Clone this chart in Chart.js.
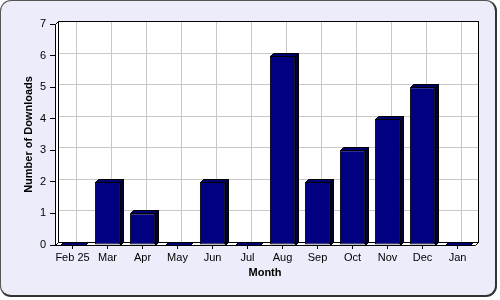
<!DOCTYPE html>
<html>
<head>
<meta charset="utf-8">
<script src="https://cdn.jsdelivr.net/npm/chart.js@4/dist/chart.umd.min.js"></script>
<style>
  html, body { margin: 0; padding: 0; background: #fff; }
  #frame {
    position: absolute; left: 0; top: 0;
    width: 494px; height: 294px;
    background: #ececfb;
    border: 1px solid #555;
    border-right: 2px solid #333;
    border-bottom: 2px solid #333;
    border-radius: 11px;
  }
  #chart { position: absolute; left: 0; top: 0; }
</style>
</head>
<body>
<div id="frame"></div>
<canvas id="chart" width="500" height="300"></canvas>
<script>
const months = ['Feb 25', 'Mar', 'Apr', 'May', 'Jun', 'Jul', 'Aug', 'Sep', 'Oct', 'Nov', 'Dec', 'Jan'];
const downloads = [0, 2, 1, 0, 2, 0, 6, 2, 3, 4, 5, 0];
const yTicks = [0, 1, 2, 3, 4, 5, 6, 7];

const DEPTH_X = 3;
const DEPTH_Y = 3;
const FONT = 'Arial, "Liberation Sans", sans-serif';

// back wall, left wall, floor and grid, drawn before the bars
const wallsPlugin = {
  id: 'walls',
  beforeDatasetsDraw(chart) {
    const { ctx, scales } = chart;
    const left = scales.x.getPixelForValue(-0.5);
    const right = scales.x.getPixelForValue(months.length - 0.5);
    const top = scales.y.getPixelForValue(yTicks[yTicks.length - 1]);
    const bottom = scales.y.getPixelForValue(0);
    const l = Math.round(left) + 0.5, r = Math.round(right) + 0.5;
    const t = Math.round(top) + 0.5, b = Math.round(bottom) + 0.5;
    ctx.save();
    ctx.lineWidth = 1;
    // back wall
    ctx.fillStyle = '#fff';
    ctx.fillRect(l + DEPTH_X, t - DEPTH_Y, r - l, b - t);
    // grid on the back wall
    ctx.strokeStyle = '#c8c8c8';
    ctx.beginPath();
    yTicks.forEach((v) => {
      const y = Math.round(scales.y.getPixelForValue(v) - DEPTH_Y) + 0.5;
      ctx.moveTo(l + DEPTH_X, y);
      ctx.lineTo(r + DEPTH_X, y);
    });
    months.forEach((m, i) => {
      const x = Math.round(scales.x.getPixelForValue(i) + DEPTH_X) + 0.5;
      ctx.moveTo(x, t - DEPTH_Y);
      ctx.lineTo(x, b - DEPTH_Y);
    });
    ctx.stroke();
    ctx.strokeStyle = '#000';
    ctx.strokeRect(l + DEPTH_X, t - DEPTH_Y, r - l, b - t);
    // left wall
    ctx.fillStyle = '#fff';
    ctx.beginPath();
    ctx.moveTo(l, t);
    ctx.lineTo(l + DEPTH_X, t - DEPTH_Y);
    ctx.lineTo(l + DEPTH_X, b - DEPTH_Y);
    ctx.lineTo(l, b);
    ctx.closePath();
    ctx.fill();
    ctx.stroke();
    // floor
    ctx.beginPath();
    ctx.moveTo(l, b);
    ctx.lineTo(r, b);
    ctx.lineTo(r + DEPTH_X, b - DEPTH_Y);
    ctx.lineTo(l + DEPTH_X, b - DEPTH_Y);
    ctx.closePath();
    ctx.fill();
    ctx.stroke();
    ctx.restore();
  },
  // side and top faces of each bar
  afterDatasetsDraw(chart) {
    const { ctx } = chart;
    const meta = chart.getDatasetMeta(0);
    ctx.save();
    ctx.lineWidth = 1;
    ctx.strokeStyle = '#000';
    meta.data.forEach((bar) => {
      const { x, y, base, width } = bar.getProps(['x', 'y', 'base', 'width'], true);
      const l = Math.round(x - width / 2) + 0.5;
      const r = Math.round(x + width / 2) + 0.5;
      const t = Math.round(y) + 0.5;
      const b = Math.round(base) + 0.5;
      // side
      ctx.fillStyle = '#00003c';
      ctx.beginPath();
      ctx.moveTo(r, t);
      ctx.lineTo(r + DEPTH_X, t - DEPTH_Y);
      ctx.lineTo(r + DEPTH_X, b - DEPTH_Y);
      ctx.lineTo(r, b);
      ctx.closePath();
      ctx.fill();
      ctx.stroke();
      // top
      ctx.fillStyle = '#000070';
      ctx.beginPath();
      ctx.moveTo(l, t);
      ctx.lineTo(l + DEPTH_X, t - DEPTH_Y);
      ctx.lineTo(r + DEPTH_X, t - DEPTH_Y);
      ctx.lineTo(r, t);
      ctx.closePath();
      ctx.fill();
      ctx.stroke();
    });
    ctx.restore();
  },
};

new Chart(document.getElementById('chart'), {
  type: 'bar',
  data: {
    labels: months,
    datasets: [{
      data: downloads,
      backgroundColor: '#000080',
      borderColor: '#000',
      borderWidth: 1,
      borderSkipped: false,
      categoryPercentage: 1,
      barPercentage: 0.72,
    }],
  },
  options: {
    responsive: false,
    animation: false,
    devicePixelRatio: 1,
    layout: { padding: { top: 24, right: 25, left: 22, bottom: 20 } },
    plugins: { legend: { display: false }, tooltip: { enabled: false } },
    scales: {
      x: {
        offset: true,
        grid: { offset: false, drawOnChartArea: false, drawTicks: true, tickLength: 4, color: '#000' },
        border: { display: false },
        ticks: { color: '#000', font: { family: FONT, size: 11 }, padding: 2, maxRotation: 0, autoSkip: false },
        title: { display: true, text: 'Month', color: '#000', font: { family: FONT, size: 11, weight: 'bold' }, padding: 0 },
        afterFit(scale) { scale.height = 35; },
      },
      y: {
        min: 0,
        max: 7,
        afterBuildTicks(scale) { scale.ticks = yTicks.map((v) => ({ value: v })); },
        grid: { drawOnChartArea: false, drawTicks: true, tickLength: 5, color: '#000' },
        border: { display: true, color: '#000' },
        ticks: { color: '#000', font: { family: FONT, size: 11 }, padding: 4 },
        title: { display: true, text: 'Number of Downloads', color: '#000', font: { family: FONT, size: 11, weight: 'bold' }, padding: 0 },
        afterFit(scale) { scale.width = 33; },
      },
    },
  },
  plugins: [wallsPlugin],
});
</script>
</body>
</html>
